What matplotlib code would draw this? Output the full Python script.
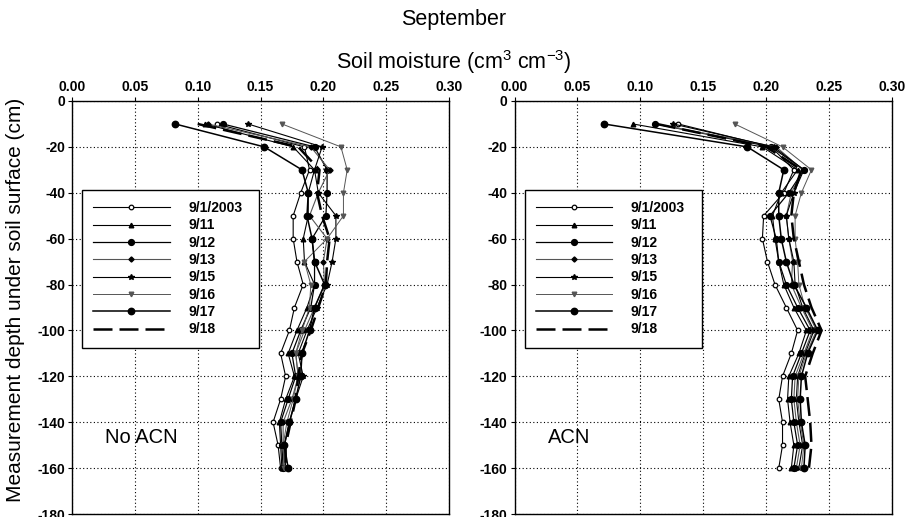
import matplotlib
matplotlib.use("Agg")
import matplotlib.pyplot as plt

plt.rcParams['font.family'] = ['Liberation Sans', 'DejaVu Sans']
plt.rcParams['mathtext.fontset'] = 'custom'
plt.rcParams['mathtext.rm'] = 'Liberation Sans'
plt.rcParams['mathtext.it'] = 'Liberation Sans:italic'

depths = [-10, -20, -30, -40, -50, -60, -70, -80, -90, -100, -110, -120, -130, -140, -150, -160]
dates = ["9/1/2003", "9/11", "9/12", "9/13", "9/15", "9/16", "9/17", "9/18"]

no_acn = {
    "9/1/2003": [0.115, 0.185, 0.189, 0.182, 0.176, 0.176, 0.179, 0.184, 0.177, 0.173, 0.166, 0.170, 0.166, 0.160, 0.164, 0.166],
    "9/11":     [0.106, 0.176, 0.193, 0.188, 0.188, 0.184, 0.185, 0.193, 0.187, 0.179, 0.172, 0.177, 0.170, 0.165, 0.166, 0.167],
    "9/12":     [0.120, 0.193, 0.203, 0.203, 0.202, 0.191, 0.193, 0.193, 0.190, 0.182, 0.175, 0.178, 0.172, 0.166, 0.167, 0.168],
    "9/13":     [0.108, 0.190, 0.205, 0.196, 0.189, 0.203, 0.200, 0.201, 0.193, 0.185, 0.178, 0.180, 0.175, 0.168, 0.168, 0.169],
    "9/15":     [0.140, 0.199, 0.193, 0.196, 0.210, 0.210, 0.207, 0.203, 0.195, 0.187, 0.180, 0.184, 0.178, 0.173, 0.169, 0.170],
    "9/16":     [0.167, 0.214, 0.219, 0.216, 0.216, 0.203, 0.185, 0.190, 0.189, 0.183, 0.178, 0.180, 0.176, 0.171, 0.168, 0.169],
    "9/17":     [0.082, 0.153, 0.183, 0.188, 0.187, 0.191, 0.193, 0.201, 0.193, 0.189, 0.183, 0.182, 0.178, 0.173, 0.169, 0.172],
    "9/18":     [0.100, 0.180, 0.197, 0.195, 0.199, 0.205, 0.203, 0.202, 0.196, 0.190, 0.183, 0.180, 0.178, 0.174, 0.170, 0.170],
}

acn = {
    "9/1/2003": [0.130, 0.204, 0.222, 0.214, 0.198, 0.197, 0.201, 0.207, 0.216, 0.225, 0.220, 0.213, 0.210, 0.213, 0.213, 0.210],
    "9/11":     [0.094, 0.197, 0.225, 0.212, 0.205, 0.207, 0.210, 0.214, 0.222, 0.232, 0.226, 0.218, 0.217, 0.219, 0.222, 0.220],
    "9/12":     [0.112, 0.204, 0.230, 0.218, 0.203, 0.208, 0.210, 0.216, 0.225, 0.235, 0.228, 0.221, 0.220, 0.222, 0.225, 0.222],
    "9/13":     [0.112, 0.208, 0.229, 0.220, 0.216, 0.218, 0.221, 0.220, 0.228, 0.237, 0.230, 0.223, 0.222, 0.224, 0.227, 0.224],
    "9/15":     [0.126, 0.206, 0.230, 0.222, 0.216, 0.218, 0.222, 0.223, 0.229, 0.238, 0.231, 0.225, 0.224, 0.226, 0.229, 0.226],
    "9/16":     [0.175, 0.213, 0.236, 0.228, 0.223, 0.223, 0.225, 0.226, 0.231, 0.240, 0.232, 0.226, 0.225, 0.227, 0.230, 0.228],
    "9/17":     [0.071, 0.185, 0.214, 0.210, 0.210, 0.212, 0.216, 0.222, 0.232, 0.241, 0.233, 0.228, 0.227, 0.228, 0.231, 0.230],
    "9/18":     [0.113, 0.200, 0.228, 0.222, 0.220, 0.222, 0.226, 0.230, 0.236, 0.244, 0.237, 0.231, 0.233, 0.235, 0.236, 0.234],
}

xticks = [0.00, 0.05, 0.10, 0.15, 0.20, 0.25, 0.30]
yticks = [0, -20, -40, -60, -80, -100, -120, -140, -160, -180]

styles = {
    "9/1/2003": dict(color='black', marker='o', ms=3.3, mfc='white', mec='black', mew=0.9, lw=0.8),
    "9/11":     dict(color='black', marker='^', ms=3.3, mfc='black', mec='black', lw=0.8),
    "9/12":     dict(color='black', marker='o', ms=4.2, mfc='black', mec='black', lw=0.9),
    "9/13":     dict(color='#555555', marker='D', ms=2.6, mfc='black', mec='black', lw=0.8),
    "9/15":     dict(color='black', marker='*', ms=4.2, mfc='black', mec='black', lw=0.8),
    "9/16":     dict(color='#555555', marker='v', ms=3.3, mfc='#555555', mec='#555555', lw=0.7),
    "9/17":     dict(color='black', marker='o', ms=4.6, mfc='black', mec='black', lw=1.1),
    "9/18":     dict(color='black', marker=None, lw=1.8, ls=(0, (7.6, 2.8))),
}

fig = plt.figure(figsize=(9.07, 5.17), dpi=100)
W, H = 907, 517
ax1 = fig.add_axes([72 / W, (H - 514) / H, 377 / W, 413 / H])
ax2 = fig.add_axes([514.5 / W, (H - 514) / H, 377.5 / W, 413 / H])

for ax, data, label in [(ax1, no_acn, "No ACN"), (ax2, acn, "ACN")]:
    for d in dates:
        ax.plot(data[d], depths, label=d, **styles[d])
    ax.set_xlim(0, 0.30)
    ax.set_ylim(-180, 0)
    ax.set_xticks(xticks)
    ax.set_xticklabels([f"{v:.2f}" for v in xticks])
    ax.set_yticks(yticks)
    ax.set_yticklabels([str(v) for v in yticks])
    ax.xaxis.tick_top()
    ax.tick_params(axis='both', direction='out', length=3, width=0.8, labelsize=10, pad=2)
    for lab in ax.get_xticklabels() + ax.get_yticklabels():
        lab.set_fontweight('bold')
    ax.grid(True, color='black', linestyle=(0, (1, 2.2)), linewidth=0.8)
    for sp in ax.spines.values():
        sp.set_linewidth(1.0)
    ax.text(0.088, 0.185, label, transform=ax.transAxes, fontsize=14.5, ha='left', va='center')
    lx0 = 10 / 377
    ly1 = 1 - (190 - 101) / 413
    lw = 177 / 377
    lh = 157 / 413
    leg = ax.legend(loc='upper left', bbox_to_anchor=(lx0, ly1 - lh, lw, lh), mode='expand',
                    borderaxespad=0, frameon=True, fancybox=False, edgecolor='black',
                    framealpha=1, handlelength=5.5, handletextpad=1.35, labelspacing=0.24,
                    borderpad=0.8, prop={'weight': 'bold', 'size': 10})
    leg.get_frame().set_linewidth(1.0)

fig.text(0.5, 1 - 19 / H, "September", ha='center', va='center', fontsize=15.5)
fig.text(0.5, 1 - 62 / H, r"Soil moisture (cm$^{3}$ cm$^{-3}$)", ha='center', va='center', fontsize=15.5)
fig.text(16 / W, 1 - 300 / H, "Measurement depth under soil surface (cm)", rotation=90,
         ha='center', va='center', fontsize=15)

fig.savefig("out.png", dpi=100)
